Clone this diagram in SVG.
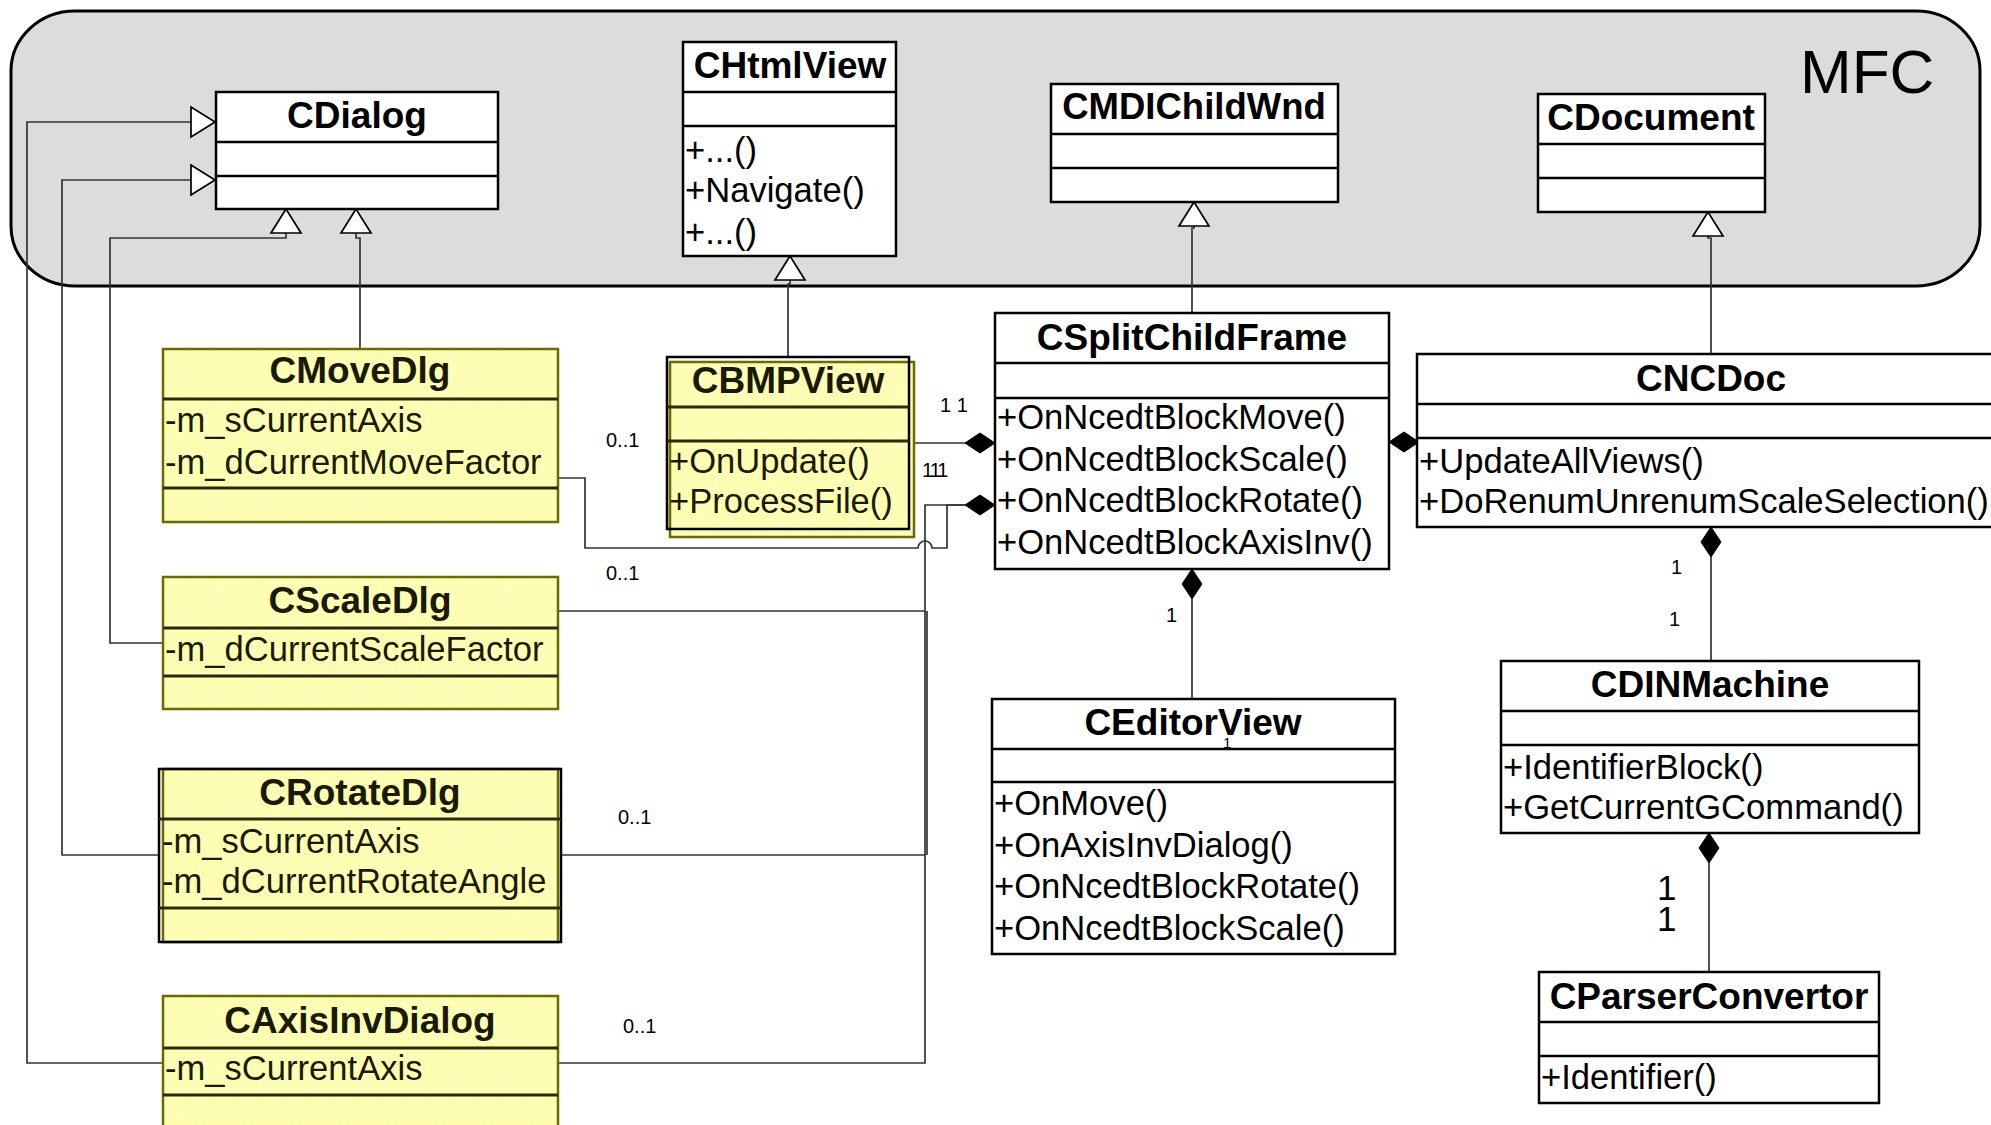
<svg xmlns="http://www.w3.org/2000/svg" width="1991" height="1125" viewBox="0 0 1991 1125">
<defs>
<pattern id="yel" width="3" height="3" patternUnits="userSpaceOnUse">
<rect width="3" height="3" fill="#ffff9c"/>
<rect width="3" height="1" fill="#ffffc8"/>
<rect width="1" height="3" fill="#ffffc8"/>
</pattern>
<style>
.box{fill:#fff;stroke:#000;stroke-width:2.5}
.ybox{fill:url(#yel);stroke:#6b6b00;stroke-width:2.5}
.bl{fill:none;stroke:#000;stroke-width:2.5}
.dv{stroke:#000;stroke-width:2.5}
.ydv{stroke:#2a2a00;stroke-width:3}
.t{font-family:"Liberation Sans",Arial,sans-serif;font-weight:bold;font-size:37px;text-anchor:middle;fill:#000}
.yt{fill:#1a1a00}
.m{font-family:"Liberation Sans",Arial,sans-serif;font-size:34.6px;fill:#000}
.ym{fill:#1a1a00}
.l{font-family:"Liberation Sans",Arial,sans-serif;font-size:20px;fill:#000}
.c{fill:none;stroke:#333;stroke-width:1.7}
.g{fill:#fff;stroke:#000;stroke-width:1.7}
.d{fill:#000;stroke:#000;stroke-width:1}
</style>
</defs>
<rect width="1991" height="1125" fill="#fff"/>

<g id="MFC">
<rect x="11" y="11" width="1969" height="275" rx="64" ry="60" fill="#dcdcdc" stroke="#000" stroke-width="3"/>
<text x="1800" y="93" font-family="Liberation Sans, Arial, sans-serif" font-size="62">MFC</text>
</g>

<g id="connectors">
<polyline class="c" points="360,349 360,238 356,238 356,233"/>
<polyline class="c" points="163,643 110,643 110,238 286,238 286,233"/>
<polyline class="c" points="159,855 62,855 62,180 191,180"/>
<polyline class="c" points="163,1063 27,1063 27,122 191,122"/>
<polyline class="c" points="788,357 788,284 790,284 790,280"/>
<polyline class="c" points="1192,313 1192,228 1194,228 1194,226"/>
<polyline class="c" points="1711,354 1711,238 1708,238 1708,236"/>
<polygon class="g" points="356,209 341,233 371,233"/>
<polygon class="g" points="286,209 271,233 301,233"/>
<polygon class="g" points="215,180 191,165 191,195"/>
<polygon class="g" points="215,122 191,107 191,137"/>
<polygon class="g" points="790,256 775,280 805,280"/>
<polygon class="g" points="1194,202 1179,226 1209,226"/>
<polygon class="g" points="1708,212 1693,236 1723,236"/>
<polyline class="c" points="909,443 965,443"/>
<path class="c" d="M558,478 H585 V548 H918 A7,7 0 0 1 932,548 H947 V505 H965"/>
<polyline class="c" points="558,611 925,611"/>
<polyline class="c" points="561,855 925,855"/>
<polyline class="c" points="558,1063 925,1063 925,505 965,505"/>
<line class="c" x1="927" y1="611" x2="927" y2="855"/>
<line class="c" x1="1192" y1="599" x2="1192" y2="705"/>
<line class="c" x1="1711" y1="557" x2="1711" y2="661"/>
<line class="c" x1="1709" y1="863" x2="1709" y2="972"/>
<polygon class="d" points="995,443 980,433 965,443 980,453"/>
<polygon class="d" points="995,505 980,495 965,505 980,515"/>
<polygon class="d" points="1389,442 1404,432 1419,442 1404,452"/>
<polygon class="d" points="1192,569 1202,584 1192,599 1182,584"/>
<polygon class="d" points="1711,527 1721,542 1711,557 1701,542"/>
<polygon class="d" points="1709,833 1719,848 1709,863 1699,848"/>
<text class="l" x="606" y="447">0..1</text>
<text class="l" x="606" y="580">0..1</text>
<text class="l" x="618" y="824">0..1</text>
<text class="l" x="623" y="1033">0..1</text>
<text class="l" x="940" y="412">1 1</text>
<text class="l" x="922" y="477" style="letter-spacing:-2px">111</text>
<text class="l" x="1378" y="484">1</text>
<text class="l" x="1419" y="485">1</text>
<text class="l" x="1166" y="622">1</text>
<text class="l" x="1671" y="574">1</text>
<text class="l" x="1669" y="626">1</text>
<text class="l" x="1657" y="900" style="font-size:35px">1</text>
<text class="l" x="1657" y="931" style="font-size:35px">1</text>
</g>

<g id="CDialog">
<rect class="box" x="216" y="92" width="282" height="117"/>
<line class="dv" x1="216" y1="142" x2="498" y2="142"/>
<line class="dv" x1="216" y1="176" x2="498" y2="176"/>
<text class="t" x="357" y="128">CDialog</text>
</g>

<g id="CHtmlView">
<rect class="box" x="683" y="42" width="213" height="214"/>
<line class="dv" x1="683" y1="92" x2="896" y2="92"/>
<line class="dv" x1="683" y1="126" x2="896" y2="126"/>
<text class="t" x="790" y="78">CHtmlView</text>
<text class="m" x="685" y="162">+...()</text>
<text class="m" x="685" y="202">+Navigate()</text>
<text class="m" x="685" y="244">+...()</text>
</g>

<g id="CMDIChildWnd">
<rect class="box" x="1051" y="84" width="287" height="118"/>
<line class="dv" x1="1051" y1="134" x2="1338" y2="134"/>
<line class="dv" x1="1051" y1="168" x2="1338" y2="168"/>
<text class="t" x="1194" y="119" style="font-size:36.5px">CMDIChildWnd</text>
</g>

<g id="CDocument">
<rect class="box" x="1538" y="94" width="227" height="118"/>
<line class="dv" x1="1538" y1="144" x2="1765" y2="144"/>
<line class="dv" x1="1538" y1="178" x2="1765" y2="178"/>
<text class="t" x="1651" y="130">CDocument</text>
</g>

<g id="CSplitChildFrame">
<rect class="box" x="995" y="313" width="394" height="256"/>
<line class="dv" x1="995" y1="363" x2="1389" y2="363"/>
<line class="dv" x1="995" y1="398" x2="1389" y2="398"/>
<text class="t" x="1192" y="350">CSplitChildFrame</text>
<text class="m" x="997" y="429">+OnNcedtBlockMove()</text>
<text class="m" x="997" y="471">+OnNcedtBlockScale()</text>
<text class="m" x="997" y="512">+OnNcedtBlockRotate()</text>
<text class="m" x="997" y="554">+OnNcedtBlockAxisInv()</text>
</g>

<g id="CNCDoc">
<rect class="box" x="1417" y="354" width="590" height="173"/>
<line class="dv" x1="1417" y1="404" x2="2007" y2="404"/>
<line class="dv" x1="1417" y1="438" x2="2007" y2="438"/>
<text class="t" x="1711" y="391">CNCDoc</text>
<text class="m" x="1419" y="473">+UpdateAllViews()</text>
<text class="m" x="1419" y="513">+DoRenumUnrenumScaleSelection()</text>
</g>

<g id="CBMPView">
<rect class="ybox" x="670" y="362" width="244" height="175" stroke="#dede40"/>
<rect class="bl" x="667" y="357" width="242" height="172"/>
<line class="ydv" x1="667" y1="407" x2="909" y2="407"/>
<line class="ydv" x1="667" y1="441" x2="909" y2="441"/>
<text class="t yt" x="788" y="393">CBMPView</text>
<text class="m ym" x="669" y="473">+OnUpdate()</text>
<text class="m ym" x="669" y="513">+ProcessFile()</text>
</g>

<g id="CMoveDlg">
<rect class="ybox" x="163" y="349" width="395" height="173"/>
<line class="ydv" x1="163" y1="399" x2="558" y2="399"/>
<line class="ydv" x1="163" y1="488" x2="558" y2="488"/>
<text class="t yt" x="360" y="383">CMoveDlg</text>
<text class="m ym" x="165" y="432">-m_sCurrentAxis</text>
<text class="m ym" x="165" y="474">-m_dCurrentMoveFactor</text>
</g>

<g id="CScaleDlg">
<rect class="ybox" x="163" y="577" width="395" height="132"/>
<line class="ydv" x1="163" y1="628" x2="558" y2="628"/>
<line class="ydv" x1="163" y1="676" x2="558" y2="676"/>
<text class="t yt" x="360" y="613">CScaleDlg</text>
<text class="m ym" x="165" y="661">-m_dCurrentScaleFactor</text>
</g>

<g id="CRotateDlg">
<rect class="ybox" x="163" y="769" width="395" height="173"/>
<rect class="bl" x="159" y="769" width="402" height="173"/>
<line class="ydv" x1="159" y1="819" x2="561" y2="819"/>
<line class="ydv" x1="159" y1="908" x2="561" y2="908"/>
<text class="t yt" x="360" y="805">CRotateDlg</text>
<text class="m ym" x="162" y="853">-m_sCurrentAxis</text>
<text class="m ym" x="162" y="893">-m_dCurrentRotateAngle</text>
</g>

<g id="CAxisInvDialog">
<rect class="ybox" x="163" y="996" width="395" height="150"/>
<line class="ydv" x1="163" y1="1048" x2="558" y2="1048"/>
<line class="ydv" x1="163" y1="1095" x2="558" y2="1095"/>
<text class="t yt" x="360" y="1033">CAxisInvDialog</text>
<text class="m ym" x="165" y="1080">-m_sCurrentAxis</text>
</g>

<g id="CEditorView">
<rect class="box" x="992" y="699" width="403" height="255"/>
<line class="dv" x1="992" y1="749" x2="1395" y2="749"/>
<line class="dv" x1="992" y1="782" x2="1395" y2="782"/>
<text class="t" x="1193" y="735">CEditorView</text>
<text class="l" x="1223" y="748" style="font-size:15px">1</text>
<text class="m" x="994" y="815">+OnMove()</text>
<text class="m" x="994" y="857">+OnAxisInvDialog()</text>
<text class="m" x="994" y="898">+OnNcedtBlockRotate()</text>
<text class="m" x="994" y="940">+OnNcedtBlockScale()</text>
</g>

<g id="CDINMachine">
<rect class="box" x="1501" y="661" width="418" height="172"/>
<line class="dv" x1="1501" y1="711" x2="1919" y2="711"/>
<line class="dv" x1="1501" y1="745" x2="1919" y2="745"/>
<text class="t" x="1710" y="697">CDINMachine</text>
<text class="m" x="1503" y="779">+IdentifierBlock()</text>
<text class="m" x="1503" y="819">+GetCurrentGCommand()</text>
</g>

<g id="CParserConvertor">
<rect class="box" x="1539" y="972" width="340" height="131"/>
<line class="dv" x1="1539" y1="1022" x2="1879" y2="1022"/>
<line class="dv" x1="1539" y1="1056" x2="1879" y2="1056"/>
<text class="t" x="1709" y="1009">CParserConvertor</text>
<text class="m" x="1541" y="1089">+Identifier()</text>
</g>
</svg>
